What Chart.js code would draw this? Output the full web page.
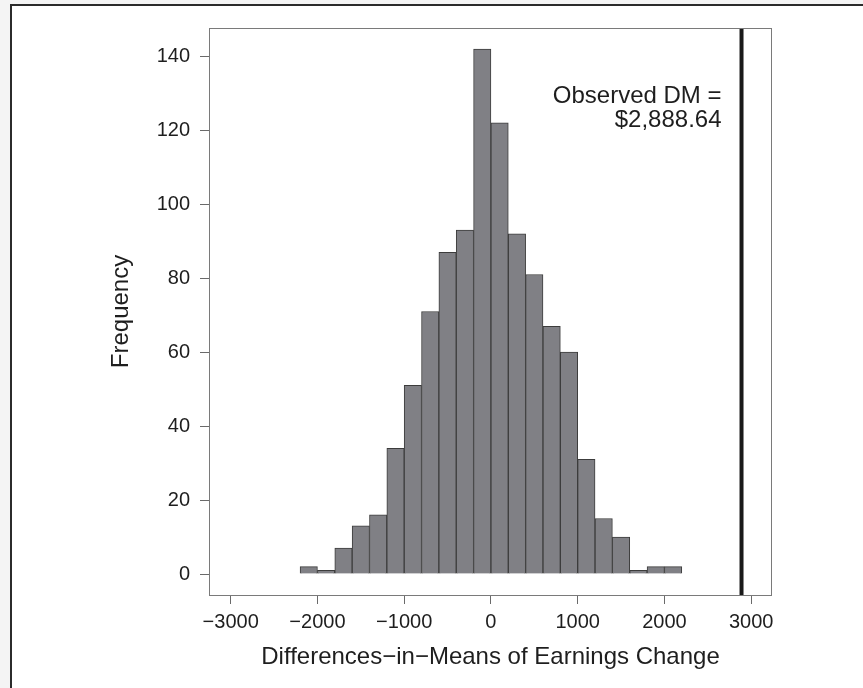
<!DOCTYPE html>
<html>
<head>
<meta charset="utf-8">
<script src="https://cdn.jsdelivr.net/npm/chart.js@4/dist/chart.umd.min.js"></script>
<style>
  html, body { margin: 0; padding: 0; background: #f4f4f4; }
  #frame {
    position: absolute; left: 10px; top: 4px; width: 853px; height: 684px;
    background: #fff; border-top: 2px solid #2b2b2b; border-left: 2px solid #2b2b2b;
  }
  #wrap { position: absolute; left: 0; top: 0; width: 863px; height: 688px; }
</style>
</head>
<body>
<div id="frame"></div>
<div id="wrap"><canvas id="hist" width="863" height="688"></canvas></div>
<script>
// histogram of the permutation differences-in-means (bins of $200)
var binMids = [-2100, -1900, -1700, -1500, -1300, -1100, -900, -700, -500, -300, -100,
               100, 300, 500, 700, 900, 1100, 1300, 1500, 1700, 1900, 2100];
var counts = [2, 1, 7, 13, 16, 34, 51, 71, 87, 93, 142,
              122, 92, 81, 67, 60, 31, 15, 10, 1, 2, 2];
var xTicks = [-3000, -2000, -1000, 0, 1000, 2000, 3000];
var yTicks = [0, 20, 40, 60, 80, 100, 120, 140];
var observedDM = 2888.64;
var observedLabel = ['Observed DM =', '$2,888.64'];

var xMin = -3250, xMax = 3240;
var yMin = -5.68, yMax = 147.68;

var fontFamily = '"Liberation Sans", Arial, Helvetica, sans-serif';

var histData = binMids.map(function(m, i) { return {x: m, y: counts[i]}; });

// box round the plot area plus the text next to the observed line
var boxAndLabel = {
    id: 'boxAndLabel',
    afterDraw: function(chart) {
        var ctx = chart.ctx;
        var a = chart.chartArea;
        ctx.save();
        ctx.strokeStyle = '#7a7a7a';
        ctx.lineWidth = 1;
        ctx.strokeRect(a.left + 0.5, a.top + 0.5, a.right - a.left - 1, a.bottom - a.top);
        ctx.fillStyle = '#1e1e1e';
        ctx.font = '24px ' + fontFamily;
        ctx.textAlign = 'right';
        ctx.textBaseline = 'alphabetic';
        var xr = chart.scales.x.getPixelForValue(observedDM) - 20;
        ctx.fillText(observedLabel[0], xr, 103);
        ctx.fillText(observedLabel[1], xr, 127);
        ctx.restore();
    }
};

new Chart(document.getElementById('hist'), {
    data: {
        datasets: [{
            type: 'bar',
            data: histData,
            backgroundColor: '#808085',
            borderColor: '#3c3c3c',
            borderWidth: 1,
            barPercentage: 1,
            categoryPercentage: 1,
            grouped: false,
            order: 2
        }, {
            type: 'line',
            data: [{x: observedDM, y: yMin}, {x: observedDM, y: yMax}],
            borderColor: '#1a1a1a',
            borderWidth: 4,
            pointRadius: 0,
            fill: false,
            order: 1
        }]
    },
    options: {
        responsive: false,
        animation: false,
        layout: { padding: { top: 28, right: 91, left: 0, bottom: 0 } },
        plugins: { legend: { display: false }, tooltip: { enabled: false } },
        scales: {
            x: {
                type: 'linear',
                min: xMin,
                max: xMax,
                offset: false,
                afterBuildTicks: function(s) { s.ticks = xTicks.map(function(v) { return {value: v}; }); },
                afterFit: function(s) { s.height = 93; },
                grid: { offset: false, drawOnChartArea: false, drawTicks: true, tickLength: 9, tickColor: '#6a6a6a' },
                border: { display: false },
                ticks: {
                    color: '#1e1e1e',
                    font: { size: 20, family: fontFamily },
                    padding: 6,
                    maxRotation: 0,
                    autoSkip: false,
                    callback: function(v) { return v < 0 ? '\u2212' + Math.abs(v) : String(v); }
                },
                title: {
                    display: true,
                    text: 'Differences\u2212in\u2212Means of Earnings Change',
                    color: '#1e1e1e',
                    font: { size: 24, family: fontFamily },
                    padding: { top: 0, bottom: 16 }
                }
            },
            y: {
                type: 'linear',
                min: yMin,
                max: yMax,
                afterBuildTicks: function(s) { s.ticks = yTicks.map(function(v) { return {value: v}; }); },
                afterFit: function(s) { s.width = 209; },
                grid: { drawOnChartArea: false, drawTicks: true, tickLength: 9, tickColor: '#6a6a6a' },
                border: { display: false },
                ticks: {
                    color: '#1e1e1e',
                    font: { size: 20, family: fontFamily },
                    padding: 10,
                    autoSkip: false
                },
                title: {
                    display: true,
                    text: 'Frequency',
                    color: '#1e1e1e',
                    font: { size: 24, family: fontFamily },
                    padding: { top: 107, bottom: 0 }
                }
            }
        }
    },
    plugins: [boxAndLabel]
});
</script>
</body>
</html>
